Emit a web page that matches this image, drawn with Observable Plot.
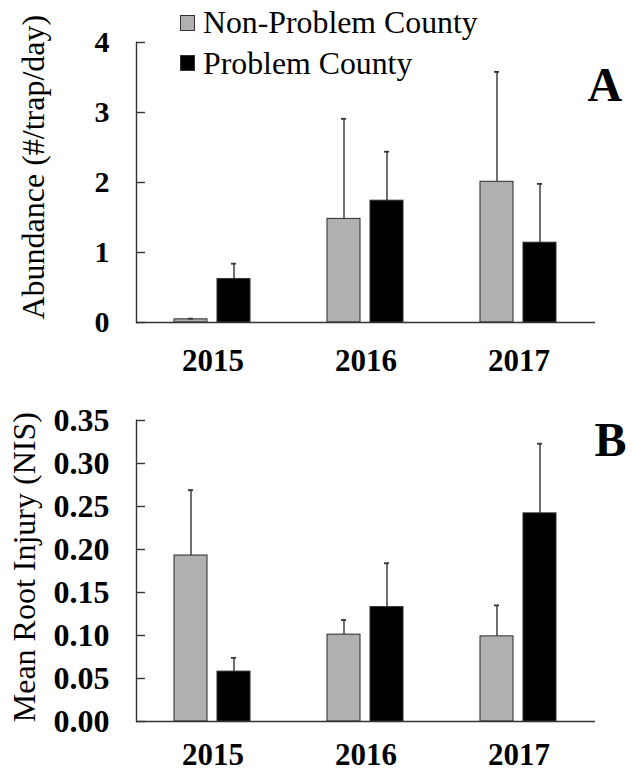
<!DOCTYPE html>
<html><head><meta charset="utf-8">
<script src="https://cdn.jsdelivr.net/npm/d3@7"></script>
<script src="https://cdn.jsdelivr.net/npm/@observablehq/plot@0.6"></script>
<style>
body{margin:0;background:#fff;}
#fig{position:relative;width:633px;height:771px;font-family:"Liberation Serif","Times New Roman",serif;color:#000;}
#fig svg{display:block;}
.leg{position:absolute;left:180px;display:flex;align-items:center;font-size:31.8px;line-height:1;white-space:nowrap;}
.sw{width:15px;height:16px;box-sizing:border-box;margin-right:8px;border:1px solid #333;}
</style></head><body><div id="fig"></div>
<script>
// ---- data ----
const years = ["2015", "2016", "2017"];
const series = ["Non-Problem County", "Problem County"];
const seriesColors = ["#b0b0b0", "#000000"];

// Panel A: Abundance (#/trap/day) — mean and top of error bar
const abundanceNon = [0.045, 1.48, 2.01];
const abundanceNonUpper = [0.055, 2.91, 3.58];
const abundanceProb = [0.62, 1.74, 1.14];
const abundanceProbUpper = [0.84, 2.44, 1.98];
const abundanceTicks = [0, 1, 2, 3, 4];

// Panel B: Mean Root Injury (NIS)
const injuryNon = [0.193, 0.101, 0.099];
const injuryNonUpper = [0.269, 0.118, 0.135];
const injuryProb = [0.058, 0.133, 0.242];
const injuryProbUpper = [0.074, 0.184, 0.323];
const injuryTicks = [0, 0.05, 0.10, 0.15, 0.20, 0.25, 0.30, 0.35];

function rows(non, nonUp, prob, probUp) {
  const out = [];
  years.forEach((y, i) => {
    out.push({year: y, series: series[0], value: non[i], upper: nonUp[i]});
    out.push({year: y, series: series[1], value: prob[i], upper: probUp[i]});
  });
  return out;
}

const FONT = "Liberation Serif, Times New Roman, serif";

function panel(o) {
  const data = rows(...o.values);
  return Plot.plot({
    width: 633, height: o.height,
    marginLeft: 135, marginRight: 37, marginTop: o.marginTop, marginBottom: o.marginBottom,
    style: {fontFamily: FONT, color: "#000", background: "#fff", overflow: "visible"},
    fx: {domain: years, padding: 0, label: null},
    x: {domain: series, paddingInner: 0.227, paddingOuter: 0.86, axis: null},
    y: {domain: o.domain, label: null},
    color: {domain: series, range: seriesColors},
    marks: [
      Plot.barY(data, {fx: "year", x: "series", y: "value", fill: "series", stroke: "#2a2a2a", strokeWidth: 1}),
      Plot.ruleX(data, {fx: "year", x: "series", y1: "value", y2: "upper", stroke: "#333", strokeWidth: 1.4}),
      Plot.tickY(data, {fx: "year", x: "series", y: "upper", stroke: "#333", strokeWidth: 1.8, inset: 14}),
      Plot.ruleY([0], {stroke: "#333", strokeWidth: 1.4}),
      Plot.frame({anchor: "left", facetAnchor: "left", stroke: "#333", strokeWidth: 1.4}),
      Plot.axisY({ticks: o.ticks, tickFormat: o.fmt, tickSize: -9, tickPadding: 36, stroke: "#333", strokeWidth: 1.4,
                  fontSize: o.yFont, fontWeight: "bold", fontFamily: FONT, label: null}),
      Plot.axisFx({anchor: "bottom", tickSize: 0, tickPadding: o.fxPadding, fontSize: 31, fontWeight: "bold", fontFamily: FONT, label: null}),
      Plot.text([o.label], {frameAnchor: "left", facetAnchor: "left", rotate: -90, textAnchor: "middle", lineAnchor: "middle",
                            dx: o.labelDx, dy: o.labelDy, fontSize: 32, fontFamily: FONT, fill: "#000"}),
      Plot.text([o.letter], {frameAnchor: "top-right", facetAnchor: "right", textAnchor: "start", lineAnchor: "bottom",
                             dx: o.letterDx, dy: o.letterDy, fontSize: 48, fontWeight: "bold", fontFamily: FONT, fill: "#000"})
    ]
  });
}

const fig = document.getElementById("fig");
fig.append(panel({
  values: [abundanceNon, abundanceNonUpper, abundanceProb, abundanceProbUpper],
  domain: [0, 4], ticks: abundanceTicks, fmt: d3.format("d"), yFont: 30,
  label: "Abundance (#/trap/day)", letter: "A",
  height: 385, marginTop: 42, marginBottom: 63, fxPadding: 26,
  labelDx: -102.5, labelDy: -15.3, letterDx: -8, letterDy: 58
}));
fig.append(panel({
  values: [injuryNon, injuryNonUpper, injuryProb, injuryProbUpper],
  domain: [0, 0.35], ticks: injuryTicks, fmt: d3.format(".2f"), yFont: 32,
  label: "Mean Root Injury (NIS)", letter: "B",
  height: 386, marginTop: 35, marginBottom: 50, fxPadding: 21,
  labelDx: -111.7, labelDy: -3.8, letterDx: -1, letterDy: 35
}));

// legend
series.forEach((s, i) => {
  const row = document.createElement("div");
  row.className = "leg";
  row.style.top = (i === 0 ? 7 : 47.5) + "px";
  const sw = document.createElement("span");
  sw.className = "sw";
  sw.style.background = seriesColors[i];
  const t = document.createElement("span");
  t.textContent = s;
  row.append(sw, t);
  fig.append(row);
});
</script>
</body></html>
